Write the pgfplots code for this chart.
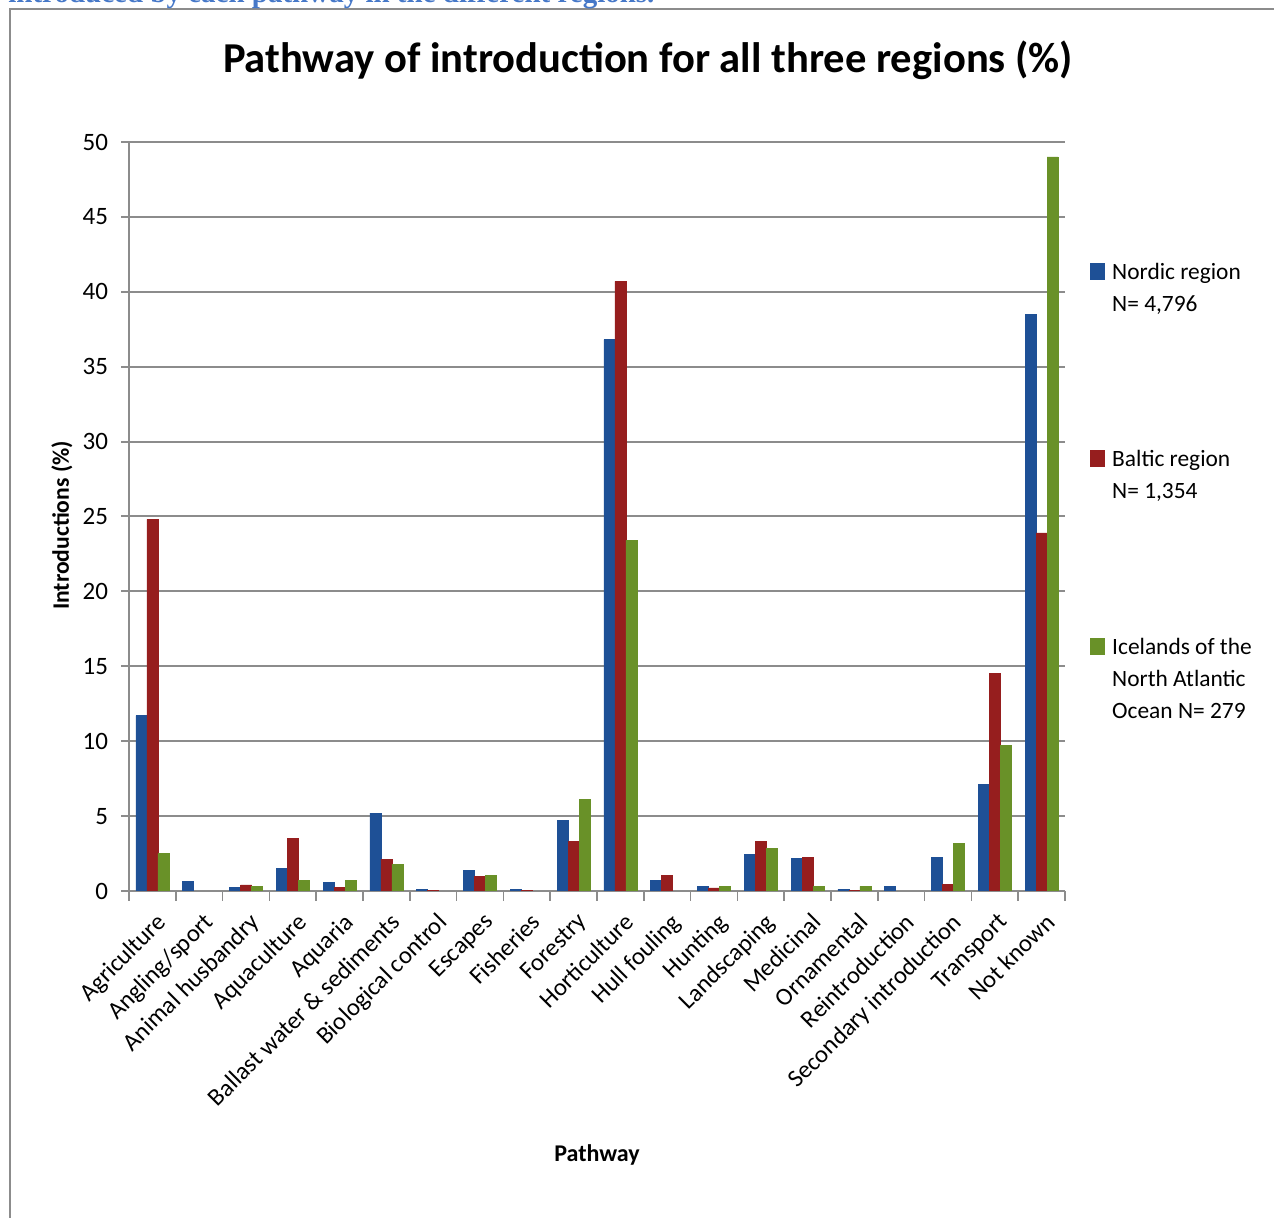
\documentclass[border=0pt]{standalone}
\usepackage{pgfplots}
\usepackage{pgfplotstable}
\pgfplotsset{compat=1.18}
\usepackage{fontspec}
\setmainfont{Carlito}
\newfontfamily\capfont{Liberation Serif}
\definecolor{capblue}{RGB}{70,120,200}
\definecolor{nbluel}{RGB}{80,145,220}
\definecolor{nblued}{RGB}{30,80,150}
\definecolor{bredl}{RGB}{225,70,65}
\definecolor{bredd}{RGB}{150,30,30}
\definecolor{igreenl}{RGB}{175,215,80}
\definecolor{igreend}{RGB}{105,145,40}
\definecolor{axgray}{RGB}{140,140,140}

\pgfplotstableread{
x nordic baltic iceland
0 11.7 24.8 2.5
1 0.65 nan nan
2 0.25 0.4 0.3
3 1.5 3.5 0.7
4 0.55 0.25 0.7
5 5.2 2.1 1.8
6 0.1 0.05 nan
7 1.4 1.0 1.05
8 0.1 0.03 nan
9 4.7 3.3 6.1
10 36.8 40.7 23.4
11 0.7 1.05 nan
12 0.3 0.2 0.3
13 2.45 3.3 2.85
14 2.2 2.25 0.3
15 0.1 0.03 0.3
16 0.3 nan nan
17 2.25 0.45 3.2
18 7.1 14.5 9.7
19 38.5 23.9 49.0
}\datatable

\begin{document}
\begin{tikzpicture}
\useasboundingbox (0pt,0pt) rectangle (637pt,609pt);
\draw[axgray, line width=1pt] (5pt,-5pt) -- (5pt,604.5pt) -- (645pt,604.5pt);
\node[anchor=base west, inner sep=0pt, text=capblue, font=\capfont\bfseries\fontsize{14.5}{16}\selectfont] at (4pt,607.5pt) {introduced by each pathway in the different regions.};
\begin{axis}[
  at={(64.5pt,163.5pt)}, anchor=south west,
  width=468pt, height=374.5pt, scale only axis,
  xmin=-0.5, xmax=19.5, ymin=0, ymax=50,
  ytick={0,5,...,50},
  xtick={0,...,19},
  xticklabels={Agriculture, Angling/sport, Animal husbandry, Aquaculture, Aquaria, Ballast water \& sediments, Biological control, Escapes, Fisheries, Forestry, Horticulture, Hull fouling, Hunting, Landscaping, Medicinal, Ornamental, Reintroduction, Secondary introduction, Transport, Not known},
  minor xtick={-0.5,0.5,...,19.5},
  axis x line*=bottom, axis y line*=left,
  axis line style={axgray, line width=1pt, -},
  ymajorgrids, major grid style={axgray, line width=1pt},
  tick align=outside,
  major tick length=4pt, minor tick length=5pt,
  every major x tick/.append style={draw=none},
  every minor x tick/.append style={axgray, line width=0.8pt},
  every major y tick/.append style={axgray, line width=1pt},
  ticklabel style={font=\fontsize{12.5}{14}\selectfont},
  yticklabel style={xshift=-3pt},
  /pgf/number format/assume math mode=true,
  xticklabel style={rotate=45, anchor=north east, yshift=-2pt, font=\fontsize{12.3}{14}\selectfont},
  ybar=0pt, bar width=5.5pt,
  title={Pathway of introduction for all three regions (\%)},
  title style={at={(axis description cs:0.5545,1.0774)}, anchor=base, yshift=0pt, font=\bfseries\fontsize{21.3}{26}\selectfont},
  ylabel={Introductions (\%)},
  ylabel style={at={(axis description cs:-0.0716,0.488)}, rotate=0, anchor=center, font=\bfseries\fontsize{11.8}{13}\selectfont},
  xlabel={Pathway},
  xlabel style={at={(axis description cs:0.5,-0.3525)}, anchor=center, font=\bfseries\fontsize{12}{13}\selectfont},
  legend style={draw=none, fill=none, at={(axis description cs:1.0267,0.847)}, anchor=north west, row sep=81pt, column sep=3.5pt, inner sep=0pt, cells={anchor=base west}, font=\fontsize{11.7}{16}\selectfont, nodes={inner sep=0pt}},
  legend image code/.code={\draw[#1] (0pt,0pt) rectangle (7pt,8pt);},
]
\addplot[draw=nblued, line width=0.4pt, left color=nblued, middle color=nbluel, right color=nblued] table[x=x,y=nordic] {\datatable};
\addplot[draw=bredd, line width=0.4pt, left color=bredd, middle color=bredl, right color=bredd] table[x=x,y=baltic] {\datatable};
\addplot[draw=igreend, line width=0.4pt, left color=igreend, middle color=igreenl, right color=igreend] table[x=x,y=iceland] {\datatable};
\addlegendentry{\begin{tabular}[t]{@{}l@{}}Nordic region\\N= 4,796\end{tabular}}
\addlegendentry{\begin{tabular}[t]{@{}l@{}}Baltic region\\N= 1,354\end{tabular}}
\addlegendentry{\begin{tabular}[t]{@{}l@{}}Icelands of the\\North Atlantic\\Ocean N= 279\end{tabular}}
\end{axis}
\end{tikzpicture}
\end{document}
